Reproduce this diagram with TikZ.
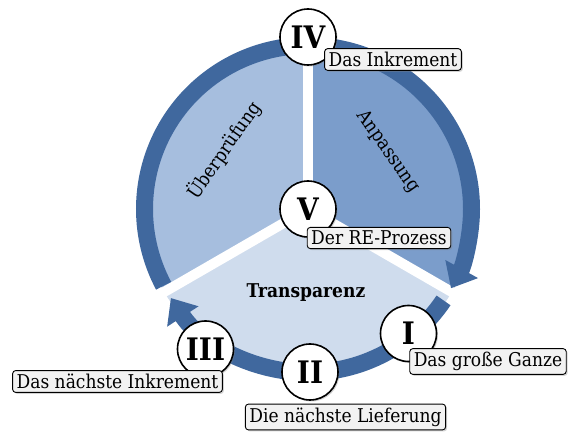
\documentclass[tikz,border=0pt]{standalone}
\usepackage{fontspec}
\setmainfont{DejaVu Serif Condensed}
\usetikzlibrary{arrows.meta, shadows}
\definecolor{ringblue}{RGB}{64,104,158}
\definecolor{wedgeA}{RGB}{123,157,203}
\definecolor{wedgeB}{RGB}{166,190,222}
\definecolor{wedgeC}{RGB}{207,220,237}
\definecolor{tagfill}{RGB}{242,242,242}
\tikzset{
    stage/.style = {
        circle, draw, line width=1.6pt, fill=white,
        minimum size=56pt, inner sep=0pt,
        font=\fontsize{31}{31}\selectfont\bfseries,
        drop shadow={opacity=0.35, shadow xshift=1.5pt, shadow yshift=-1.5pt}
    },
    tag/.style = {
        rectangle, draw, rounded corners=3pt, line width=0.9pt,
        fill=tagfill, inner xsep=4pt, inner ysep=3.5pt,
        font=\fontsize{19}{20}\selectfont,
        drop shadow={opacity=0.35, shadow xshift=1.5pt, shadow yshift=-1.5pt}
    },
    sector/.style = {
        font=\fontsize{19}{20}\selectfont
    },
    ring/.style = {
        draw=ringblue, line width=17pt
    },
    gap/.style = {
        draw=white, line width=10pt
    }
}

\begin{document}
\begin{tikzpicture}[x=1pt, y=1pt]
\useasboundingbox (-308,-226) rectangle (262,209);

\fill[wedgeA] (0,0) -- (-30:166) arc[start angle=-30, end angle=90, radius=166pt] -- cycle;
\fill[wedgeB] (0,0) -- (90:166) arc[start angle=90, end angle=210, radius=166pt] -- cycle;
\fill[wedgeC] (0,0) -- (210:166) arc[start angle=210, end angle=330, radius=166pt] -- cycle;
\draw[gap] (0,0) -- (90:180);
\draw[gap] (0,0) -- (210:180);
\draw[gap] (0,0) -- (330:180);

\draw[ring, -{Triangle[width=36pt, length=22pt]}] (87:163.5) arc[start angle=87, end angle=-29, radius=163.5pt];
\draw[ring, -{Triangle[width=36pt, length=22pt]}] (-34:163.5) arc[start angle=-34, end angle=-147, radius=163.5pt];
\draw[ring] (208:163.5) arc[start angle=208, end angle=93, radius=163.5pt];

\node (check) [sector, rotate=55] at (-84,59) {Überprüfung};
\node (adapt) [sector, rotate=-55] at (80,57) {Anpassung};
\node (transp) [sector, font=\fontsize{19}{20}\selectfont\bfseries] at (-2,-84) {Transparenz};

\node (four) [stage] at (0,172) {IV};
\node (five) [stage] at (0,0) {V};
\node (one) [stage] at (100.5,-124.5) {I};
\node (two) [stage] at (2,-163) {II};
\node (three) [stage] at (-102.5,-140) {III};

\node (incr) [tag] at (85,149.5) {Das Inkrement};
\node (proc) [tag] at (71,-29) {Der RE-Prozess};
\node (whole) [tag] at (180,-152.5) {Das große Ganze};
\node (deliv) [tag] at (37.5,-208) {Die nächste Lieferung};
\node (next) [tag] at (-190.5,-172.5) {Das nächste Inkrement};

\end{tikzpicture}
\end{document}
